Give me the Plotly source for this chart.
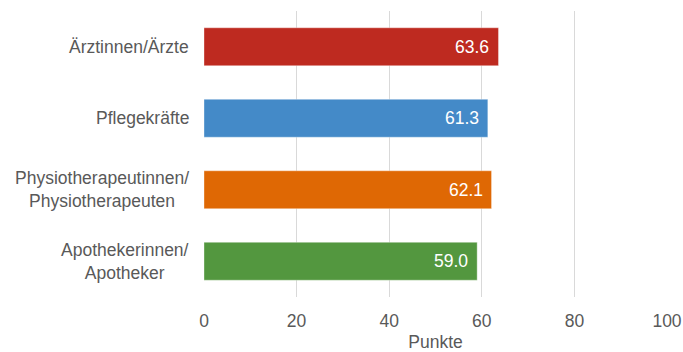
import plotly.graph_objects as go

# Scores per professional group (top to bottom)
groups = ["Ärztinnen/Ärzte", "Pflegekräfte", "Physiotherapeutinnen/<br>Physiotherapeuten",
          "Apothekerinnen/<br>Apotheker"]
scores = [63.6, 61.3, 62.1, 59.0]
colors = ["#BE2A20", "#448AC8", "#DF6804", "#53973F"]
x_ticks = [0, 20, 40, 60, 80, 100]

FONT = "Liberation Sans, Arial, sans-serif"
GREY = "#595959"

fig = go.Figure(go.Bar(
    x=scores, y=groups, orientation="h",
    marker=dict(color=colors, line=dict(color="rgba(255,255,255,0.35)", width=1)),
    width=0.53, hoverinfo="skip",
))

# value labels inside the bar ends
for g, s in zip(groups, scores):
    fig.add_annotation(x=s, y=g, xref="x", yref="y", text=f"{s:.1f}",
                       showarrow=False, xanchor="right", xshift=-7,
                       font=dict(family=FONT, size=17.5, color="white"))

# category labels, centred per line
for g in groups:
    fig.add_annotation(x=0, y=g, xref="paper", yref="y", text=g,
                       showarrow=False, xanchor="right", align="center", xshift=-13,
                       font=dict(family=FONT, size=17.5, color=GREY))

fig.update_layout(
    width=683, height=352,
    margin=dict(l=204, r=15.5, t=11, b=55),
    paper_bgcolor="white", plot_bgcolor="white",
    showlegend=False,
    font=dict(family=FONT, color=GREY, size=17.5),
    xaxis=dict(range=[0, 100], tickvals=x_ticks, showgrid=True, gridcolor="#D9D9D9",
               gridwidth=1, zeroline=False, showline=False, ticks="", automargin=False,
               ticklabelstandoff=11,
               tickfont=dict(size=17.5, color=GREY),
               title=dict(text="Punkte", font=dict(size=17.5, color=GREY), standoff=8)),
    yaxis=dict(categoryorder="array", categoryarray=groups[::-1], automargin=False,
               showticklabels=False, showgrid=False, zeroline=False, ticks=""),
)

fig.write_html("out.html")
